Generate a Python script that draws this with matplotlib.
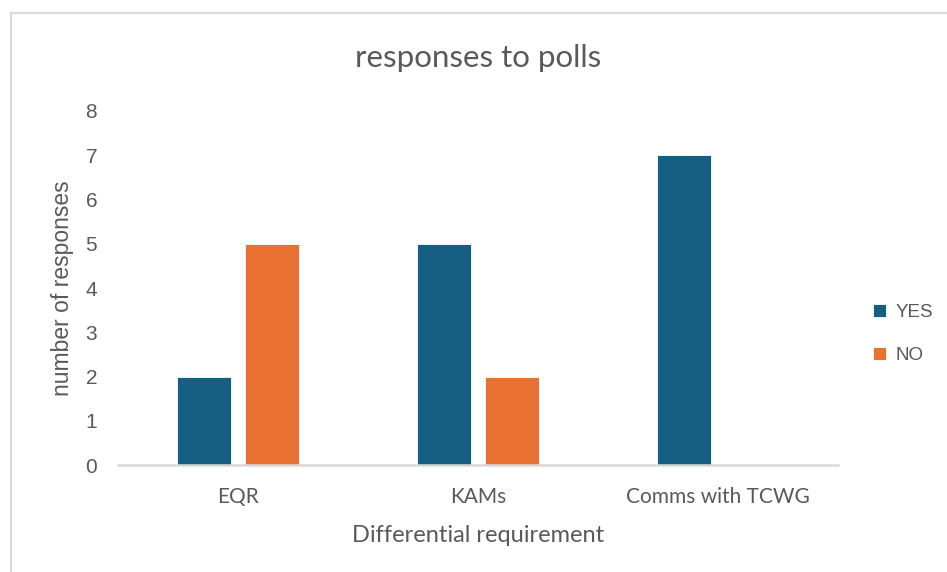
import matplotlib.pyplot as plt
import numpy as np
from matplotlib.lines import Line2D

categories = ["EQR", "KAMs", "Comms with TCWG"]
yes_counts = [2, 5, 7]
no_counts = [5, 2, 0]
y_ticks = [0, 1, 2, 3, 4, 5, 6, 7, 8]

blue = "#156082"
orange = "#E97132"
text_col = "#595959"
line_col = "#D9D9D9"

fig = plt.figure(figsize=(9.47, 5.72), dpi=100)
ax = fig.add_axes([0.1246, 0.187, 0.7604, 0.619])

x = np.arange(len(categories))
w = 0.225
off = 0.1417
ax.bar(x - off, yes_counts, w, color=blue, edgecolor="white", linewidth=0.6, label="YES")
ax.bar(x + off, no_counts, w, color=orange, edgecolor="white", linewidth=0.6, label="NO")

ax.set_xlim(-0.5, 2.5)
ax.set_ylim(0, 8)
ax.set_yticks(y_ticks)
ax.set_xticks(x)
ax.set_xticklabels(categories, family="Lato", fontsize=15, color=text_col)
ax.tick_params(axis="y", length=0, pad=15, labelsize=15, labelcolor=text_col)
ax.tick_params(axis="x", length=0, pad=16)
for lab in ax.get_yticklabels():
    lab.set_family("Liberation Sans")

for s in ["top", "right", "left"]:
    ax.spines[s].set_visible(False)
ax.spines["bottom"].set_color(line_col)
ax.spines["bottom"].set_linewidth(1.8)

ax.set_ylabel("number of responses", family="Liberation Sans", fontsize=16.5,
              color=text_col, labelpad=8)
ax.set_xlabel("Differential requirement", family="Lato", fontsize=17,
              color=text_col, labelpad=13)
ax.set_title("responses to polls", family="Lato", fontsize=22.5, color=text_col, pad=32)

leg = fig.legend(loc="center left", bbox_to_anchor=(0.922, 1 - 334 / 572), frameon=False,
                 prop={"family": "Liberation Sans", "size": 13.5},
                 handlelength=0.7, handleheight=0.7, handletextpad=0.5,
                 labelspacing=1.4, borderpad=0, borderaxespad=0)
for t in leg.get_texts():
    t.set_color(text_col)

# chart frame
fig.add_artist(Line2D([11 / 947, 1], [1 - 13 / 572, 1 - 13 / 572],
                      transform=fig.transFigure, color=line_col, linewidth=1.5))
fig.add_artist(Line2D([11 / 947, 11 / 947], [0, 1 - 13 / 572],
                      transform=fig.transFigure, color=line_col, linewidth=1.5))

fig.savefig("out.png", dpi=100)
